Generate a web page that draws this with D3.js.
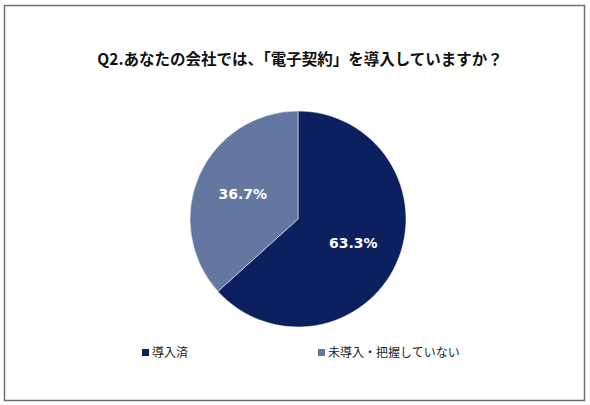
<!DOCTYPE html>
<html>
<head>
<meta charset="utf-8">
<script src="https://cdn.jsdelivr.net/npm/d3@7"></script>
<style>
  body { margin: 0; background: #fff; }
  svg { display: block; font-family: "Noto Sans CJK JP", "Noto Sans", sans-serif; }
</style>
</head>
<body>
<div class="chart"></div>
<script>
const title = 'Q2.あなたの会社では、「電子契約」を導入していますか？';
const categories = ['導入済', '未導入・把握していない'];
const values = [63.3, 36.7];
const colors = ['#0c1f5f', '#6477a0'];

const width = 590;
const height = 405;

const svg = d3
  .select('.chart')
  .append('svg')
  .attr('width', width)
  .attr('height', height);

// frame
svg
  .append('rect')
  .attr('x', 4.5)
  .attr('y', 5.5)
  .attr('width', 580)
  .attr('height', 395)
  .attr('fill', '#fff')
  .attr('stroke', '#707070')
  .attr('stroke-width', 1.5);

// title
svg
  .append('text')
  .attr('x', 300)
  .attr('y', 65)
  .attr('text-anchor', 'middle')
  .attr('font-size', '15.5px')
  .attr('font-weight', 'bold')
  .attr('fill', '#111')
  .text(title);

const radius = 108;
const group = svg.append('g').attr('transform', 'translate(298,219)');

const colorScale = d3.scaleOrdinal().domain(categories).range(colors);

const pie = d3.pie().sort(null).value((d) => d.value);
const arcs = pie(categories.map((c, i) => ({ category: c, value: values[i] })));

const arc = d3.arc().innerRadius(0).outerRadius(radius);
const labelArc = d3.arc().innerRadius(radius * 0.56).outerRadius(radius * 0.56);

group
  .selectAll('path')
  .data(arcs)
  .join('path')
  .attr('d', arc)
  .attr('fill', (d) => colorScale(d.data.category))
  .attr('stroke', '#fff')
  .attr('stroke-width', 0.5);

group
  .selectAll('.slice-label')
  .data(arcs)
  .join('text')
  .attr('class', 'slice-label')
  .attr('transform', (d) => 'translate(' + labelArc.centroid(d) + ')')
  .attr('text-anchor', 'middle')
  .attr('dy', '0.35em')
  .attr('fill', '#fff')
  .attr('font-family', 'Verdana, "DejaVu Sans", sans-serif')
  .attr('font-weight', 'bold')
  .attr('font-size', '14px')
  .text((d) => d.data.value.toFixed(1) + '%');

// legend
const legendX = [142, 318];
const legend = svg
  .selectAll('.legend')
  .data(categories)
  .join('g')
  .attr('class', 'legend')
  .attr('transform', (d, i) => `translate(${legendX[i]}, 353)`);

legend
  .append('rect')
  .attr('x', 0)
  .attr('y', -4)
  .attr('width', 7)
  .attr('height', 7)
  .attr('fill', (d) => colorScale(d));

legend
  .append('text')
  .attr('x', 10)
  .attr('y', 0)
  .attr('dy', '0.35em')
  .attr('font-size', '12px')
  .attr('fill', '#222')
  .text((d) => d);
</script>
</body>
</html>
